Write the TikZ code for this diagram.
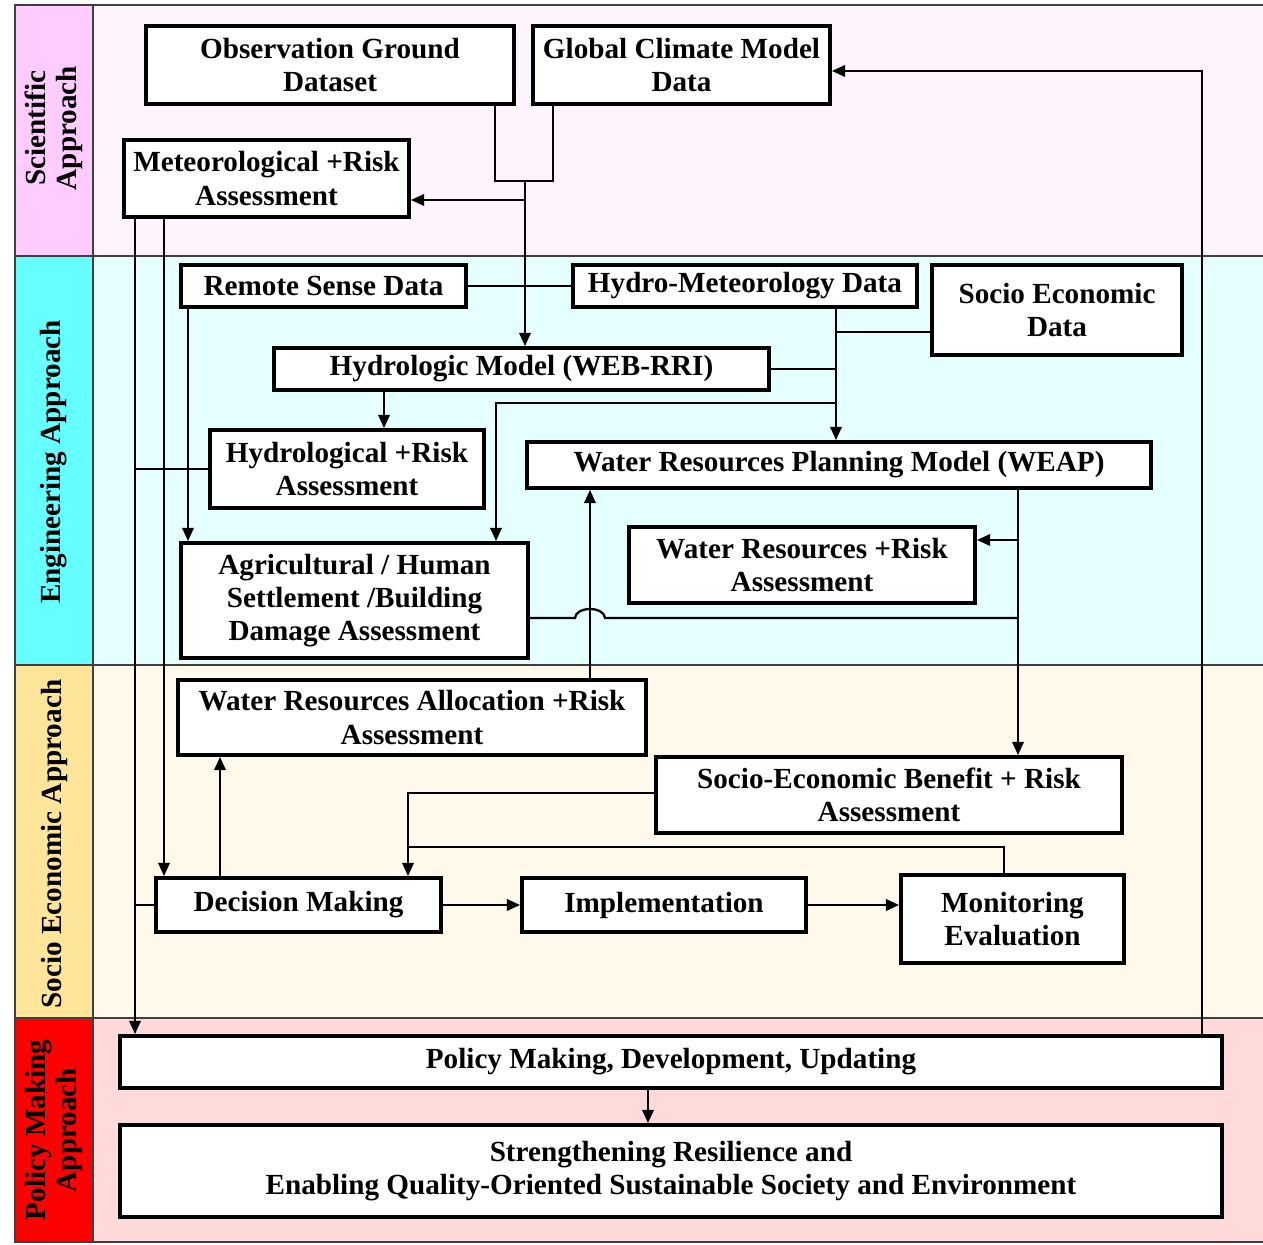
\documentclass[tikz,border=0pt]{standalone}
\usepackage{fontspec}
\setmainfont{Liberation Serif}
\usetikzlibrary{arrows.meta}

\definecolor{scilab}{HTML}{FFCCFF}
\definecolor{sciback}{HTML}{FDF4FD}
\definecolor{englab}{HTML}{66FFFF}
\definecolor{engback}{HTML}{E5FFFF}
\definecolor{soclab}{HTML}{FFE599}
\definecolor{socback}{HTML}{FFF9EC}
\definecolor{pollab}{HTML}{FF0000}
\definecolor{polback}{HTML}{FFDADA}
\definecolor{rulegray}{HTML}{404040}

\begin{document}
\begin{tikzpicture}[>={Triangle[length=7.5pt,width=6.5pt]},
    box/.style={draw, line width=2.2pt, fill=white, align=center, inner sep=1pt,
      font=\bfseries\fontsize{16.6}{19}\selectfont},
    link/.style={line width=1.3pt},
    lanetitle/.style={rotate=90, align=center, font=\bfseries\fontsize{16.6}{18}\selectfont},
    lanerule/.style={rulegray, line width=1.1pt}]
    \useasboundingbox (0,0) rectangle (25.26,24.88);

    % Baner
    \fill[sciback] (1.86,19.76) rectangle (25.26,24.78);
    \fill[scilab]  (0.30,19.76) rectangle (1.86,24.78);
    \fill[engback] (1.86,11.58) rectangle (25.26,19.76);
    \fill[englab]  (0.30,11.58) rectangle (1.86,19.76);
    \fill[socback] (1.86,4.52) rectangle (25.26,11.58);
    \fill[soclab]  (0.30,4.52) rectangle (1.86,11.58);
    \fill[polback] (1.86,0.04) rectangle (25.26,4.52);
    \fill[pollab]  (0.30,0.04) rectangle (1.86,4.52);
    \draw[lanerule] (25.30,24.78) -- (0.30,24.78) -- (0.30,0.04) -- (25.30,0.04);
    \draw[lanerule] (1.86,24.78) -- (1.86,0.04);
    \foreach \y in {19.76,11.58,4.52}
      \draw[lanerule] (0.30,\y) -- (25.30,\y);

    \node[lanetitle] (tsci) at (1.08,22.32) {Scientific\\Approach};
    \node[lanetitle] (teng) at (1.08,15.64) {Engineering Approach};
    \node[lanetitle] (tsoc) at (1.08,8.00) {Socio Economic Approach};
    \node[lanetitle] (tpol) at (1.08,2.28) {Policy Making\\Approach};

    % Bokser
    \node[box, minimum width=7.36cm, minimum height=1.56cm] (obs) at (6.60,23.58) {Observation Ground\\Dataset};
    \node[box, minimum width=5.94cm, minimum height=1.56cm] (gcm) at (13.63,23.58) {Global Climate Model\\Data};
    \node[box, minimum width=5.70cm, minimum height=1.54cm] (met) at (5.33,21.31) {Meteorological +Risk\\Assessment};
    \node[box, minimum width=5.70cm, minimum height=0.84cm] (rsd) at (6.47,19.16) {Remote Sense Data};
    \node[box, minimum width=6.88cm, minimum height=0.84cm] (hmd) at (14.90,19.16) {Hydro-Meteorology Data};
    \node[box, minimum width=5.00cm, minimum height=1.80cm] (sed) at (21.14,18.68) {Socio Economic\\Data};
    \node[box, minimum width=9.90cm, minimum height=0.84cm] (hym) at (10.43,17.50) {Hydrologic Model (WEB-RRI)};
    \node[box, minimum width=5.48cm, minimum height=1.56cm] (hra) at (6.94,15.50) {Hydrological +Risk\\Assessment};
    \node[box, minimum width=12.48cm, minimum height=0.92cm] (weap) at (16.78,15.58) {Water Resources Planning Model (WEAP)};
    \node[box, minimum width=6.92cm, minimum height=1.52cm] (wra) at (16.04,13.58) {Water Resources +Risk\\Assessment};
    \node[box, minimum width=6.94cm, minimum height=2.30cm] (agr) at (7.09,12.87) {Agricultural / Human\\Settlement /Building\\Damage Assessment};
    \node[box, minimum width=9.36cm, minimum height=1.50cm] (wal) at (8.24,10.53) {Water Resources Allocation +Risk\\Assessment};
    \node[box, minimum width=9.32cm, minimum height=1.52cm] (seb) at (17.78,8.98) {Socio-Economic Benefit + Risk\\Assessment};
    \node[box, minimum width=5.70cm, minimum height=1.08cm] (dec) at (5.97,6.78) {Decision Making};
    \node[box, minimum width=5.68cm, minimum height=1.08cm] (imp) at (13.28,6.78) {Implementation};
    \node[box, minimum width=4.46cm, minimum height=1.76cm] (mon) at (20.25,6.50) {Monitoring\\Evaluation};
    \node[box, minimum width=22.04cm, minimum height=1.04cm] (pol) at (13.42,3.64) {Policy Making, Development, Updating};
    \node[box, minimum width=22.04cm, minimum height=1.84cm] (str) at (13.42,1.46) {Strengthening Resilience and\\Enabling Quality-Oriented Sustainable Society and Environment};

    % Knutepunkter
    \coordinate (br1) at (9.90,21.26);
    \coordinate (br2) at (11.06,21.26);
    \coordinate (br) at (10.50,21.26);
    \coordinate (metin) at (10.50,20.88);
    \coordinate (rgt) at (24.04,23.46);
    \coordinate (lf1) at (2.70,0);
    \coordinate (lf2) at (3.28,0);
    \coordinate (lf3) at (3.76,0);
    \coordinate (hx) at (7.68,0);
    \coordinate (tr) at (16.72,0);
    \coordinate (sedj) at (16.72,18.24);
    \coordinate (tj) at (16.72,16.82);
    \coordinate (ak) at (9.92,16.82);
    \coordinate (wt) at (20.36,0);
    \coordinate (wrj) at (20.36,14.08);
    \coordinate (agj) at (20.36,12.52);
    \coordinate (hop) at (11.80,0);
    \coordinate (dx) at (4.40,0);
    \coordinate (sk) at (8.16,9.02);
    \coordinate (mk) at (20.08,7.94);
    \coordinate (px) at (12.96,0);

    % Piler
    \draw[link] (obs.south -| br1) -- (br1) -- (br2) -- (gcm.south -| br2);
    \draw[link,->] (br) -- (hym.north -| br);
    \draw[link,->] (metin) -- (metin -| met.east);
    \draw[link,->] (pol.north -| rgt) -- (rgt) -- (rgt -| gcm.east);
    \draw[link,->] (met.south -| lf1) -- (pol.north -| lf1);
    \draw[link,->] (met.south -| lf2) -- (dec.north -| lf2);
    \draw[link] (hra.west) -- (hra.west -| lf1);
    \draw[link] (dec.west) -- (dec.west -| lf1);
    \draw[link] (rsd) -- (hmd);
    \draw[link,->] (rsd.south -| lf3) -- (agr.north -| lf3);
    \draw[link,->] (hym.south -| hx) -- (hra.north -| hx);
    \draw[link,->] (hmd.south -| tr) -- (weap.north -| tr);
    \draw[link] (sedj -| sed.west) -- (sedj);
    \draw[link] (hym.east) -- (hym.east -| tr);
    \draw[link,->] (tj) -- (ak) -- (agr.north -| ak);
    \draw[link,->] (weap.south -| wt) -- (seb.north -| wt);
    \draw[link,->] (wrj) -- (wrj -| wra.east);
    \draw[link] (agj -| agr.east) -- ([xshift=-0.3cm]agj -| hop)
      arc[start angle=180, end angle=0, x radius=0.3cm, y radius=0.18cm] -- (agj);
    \draw[link,->] (wal.north -| hop) -- (weap.south -| hop);
    \draw[link,->] (dec.north -| dx) -- (wal.south -| dx);
    \draw[link,->] (sk -| seb.west) -- (sk) -- (dec.north -| sk);
    \draw[link] (mon.north -| mk) -- (mk) -- (mk -| sk);
    \draw[link,->] (dec) -- (imp);
    \draw[link,->] (imp.east) -- (imp.east -| mon.west);
    \draw[link,->] (pol.south -| px) -- (str.north -| px);
  \end{tikzpicture}
\end{document}
